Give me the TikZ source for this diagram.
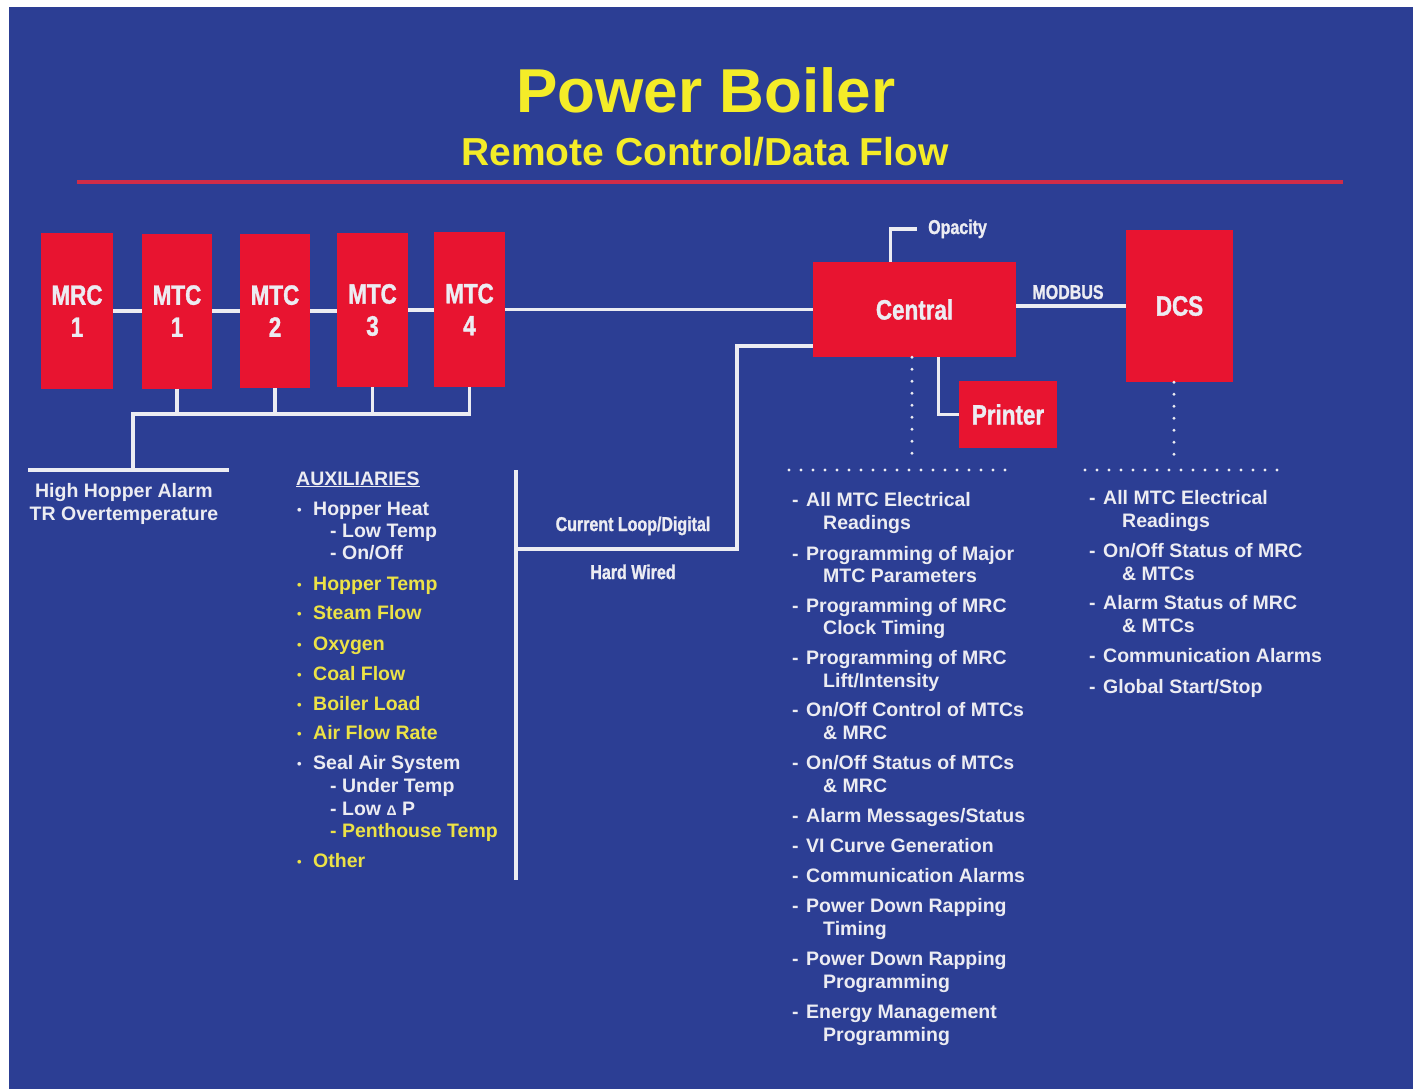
\documentclass[tikz,border=0pt]{standalone}
\usepackage{fontspec}
\setmainfont{Liberation Sans}
\newfontfamily\condf[FakeStretch=0.8, FakeBold=1.2]{Liberation Sans}
\definecolor{bg}{RGB}{44,62,148}
\definecolor{boxred}{RGB}{232,20,48}
\definecolor{ttlyel}{RGB}{244,236,40}
\definecolor{itmyel}{RGB}{236,226,70}
\definecolor{txtw}{RGB}{236,236,242}
\definecolor{rline}{RGB}{208,44,72}
\newcommand\bul{\makebox[16pt][l]{\raisebox{1pt}{\fontsize{13}{13}\selectfont •}}}
\newcommand\dsh{\makebox[14pt][l]{-}}
\begin{document}
\begin{tikzpicture}[x=1pt,y=-1pt,
 box/.style={fill=boxred, inner sep=0pt, text=txtw, font=\condf\bfseries\fontsize{28}{32}\selectfont, align=center},
 wline/.style={draw=txtw, line width=3.5pt},
 dotline/.style={draw=txtw, line width=3.2pt, line cap=round, dash pattern=on 0pt off 12pt},
 itm/.style={anchor=base west, inner sep=0pt, text=txtw, font=\bfseries\fontsize{19.5}{23}\selectfont},
 yitm/.style={itm, text=itmyel},
 clbl/.style={anchor=base, inner sep=0pt, text=txtw, font=\condf\bfseries\fontsize{20}{24}\selectfont},
 ttl/.style={anchor=base, inner sep=0pt, text=ttlyel},
]
\useasboundingbox (0,0) rectangle (1413,1089);
\fill[white] (0,0) rectangle (1413,1089);
\fill[bg] (9,7) rectangle (1413,1089);

% title
\node[ttl, font=\bfseries\fontsize{62}{70}\selectfont] (title) at (706,113) {Power Boiler};
\node[ttl, font=\bfseries\fontsize{39}{44}\selectfont] (subtitle) at (705,165) {Remote Control/Data Flow};
\coordinate (rl1) at (77,182);
\coordinate (rl2) at (1343,182);
\draw[draw=rline, line width=4pt] (rl1) -- (rl2);

% boxes
\node[box, minimum width=72pt, minimum height=156pt] (mrc1) at (77,311) {MRC\\1};
\node[box, minimum width=70pt, minimum height=155pt] (mtc1) at (177,311) {MTC\\1};
\node[box, minimum width=70pt, minimum height=154pt] (mtc2) at (275,311) {MTC\\2};
\node[box, minimum width=71pt, minimum height=154pt] (mtc3) at (372.5,310) {MTC\\3};
\node[box, minimum width=71pt, minimum height=155pt] (mtc4) at (469.5,309.5) {MTC\\4};
\node[box, minimum width=203pt, minimum height=95pt] (central) at (914.5,309.5) {Central};
\node[box, minimum width=107pt, minimum height=152pt] (dcs) at (1179.5,306) {DCS};
\node[box, minimum width=98pt, minimum height=67pt] (printer) at (1008,414.5) {Printer};

% chain
\draw[wline] (mrc1.east) -- (mtc1.west |- mrc1.east);
\draw[wline] (mtc1.east) -- (mtc2.west |- mtc1.east);
\draw[wline] (mtc2.east) -- (mtc3.west |- mtc2.east);
\draw[wline] (mtc3.east) -- (mtc4.west |- mtc3.east);
\draw[wline] (mtc4.east) -- (central.west |- mtc4.east);

% bus below MTCs
\coordinate (busL) at (133,414);
\coordinate (hl) at (28,470);
\coordinate (hr) at (229,470);
\draw[wline] (mtc1.south) -- (mtc1.south |- busL);
\draw[wline] (mtc2.south) -- (mtc2.south |- busL);
\draw[wline] (mtc3.south) -- (mtc3.south |- busL);
\draw[wline] (mtc4.south) -- (mtc4.south |- busL) -- (busL) -- (busL |- hl);
\draw[wline] (hl) -- (hr);
\node[anchor=base, inner sep=0pt, text=txtw, font=\bfseries\fontsize{19.5}{23}\selectfont] (hha) at (124,497) {High Hopper Alarm};
\node[anchor=base, inner sep=0pt, text=txtw, font=\bfseries\fontsize{19.5}{23}\selectfont] (tro) at (124,520) {TR Overtemperature};

% hard wired link
\coordinate (vtop) at (516,470);
\coordinate (vbot) at (516,880);
\coordinate (hwc) at (737,549);
\draw[wline] (vtop) -- (vbot);
\draw[wline] ([yshift=11pt]central.south west) -| (hwc) -- (hwc -| vtop);
\node[clbl] (cld) at (633,531) {Current Loop/Digital};
\node[clbl] (hw) at (633,579) {Hard Wired};

% opacity, printer, modbus
\node[clbl, anchor=base west] (opac) at (928,234) {Opacity};
\draw[wline] ([xshift=-24pt]central.north) |- ([xshift=-11pt]opac.west);
\draw[wline] ([xshift=24pt]central.south) |- (printer.west);
\draw[wline] (dcs.west -| central.east) -- (dcs.west);
\node[clbl] (modbus) at (1068,299) {MODBUS};

% dotted links
\coordinate (cd) at (912,460);
\coordinate (d1) at (789,470);
\coordinate (d2) at (1013,470);
\coordinate (dd) at (1174,460);
\coordinate (d3) at (1085,470);
\coordinate (d4) at (1283,470);
\draw[dotline] (central.south -| cd) -- (cd);
\draw[dotline] (d1) -- (d2);
\draw[dotline] (dcs.south -| dd) -- (dd);
\draw[dotline] (d3) -- (d4);

% auxiliaries
\node[itm] (aux) at (296,485) {\underline{AUXILIARIES}};
\node[itm] (a1) at (297,515) {\bul Hopper Heat};
\node[itm] (a2) at (330,537) {- Low Temp};
\node[itm] (a3) at (330,559) {- On/Off};
\node[yitm] (a4) at (297,590) {\bul Hopper Temp};
\node[yitm] (a5) at (297,619) {\bul Steam Flow};
\node[yitm] (a6) at (297,650) {\bul Oxygen};
\node[yitm] (a7) at (297,680) {\bul Coal Flow};
\node[yitm] (a8) at (297,710) {\bul Boiler Load};
\node[yitm] (a9) at (297,739) {\bul Air Flow Rate};
\node[itm] (a10) at (297,769) {\bul Seal Air System};
\node[itm] (a11) at (330,792) {- Under Temp};
\node[itm] (a12) at (330,815) {- Low {\fontsize{14}{14}\selectfont Δ} P};
\node[yitm] (a13) at (330,837) {- Penthouse Temp};
\node[yitm] (a14) at (297,867) {\bul Other};

% central list
\node[itm] (m1) at (792,506) {\dsh All MTC Electrical};
\node[itm] (m1b) at (823,529) {Readings};
\node[itm] (m2) at (792,560) {\dsh Programming of Major};
\node[itm] (m2b) at (823,582) {MTC Parameters};
\node[itm] (m3) at (792,612) {\dsh Programming of MRC};
\node[itm] (m3b) at (823,634) {Clock Timing};
\node[itm] (m4) at (792,664) {\dsh Programming of MRC};
\node[itm] (m4b) at (823,687) {Lift/Intensity};
\node[itm] (m5) at (792,716) {\dsh On/Off Control of MTCs};
\node[itm] (m5b) at (823,739) {\& MRC};
\node[itm] (m6) at (792,769) {\dsh On/Off Status of MTCs};
\node[itm] (m6b) at (823,792) {\& MRC};
\node[itm] (m7) at (792,822) {\dsh Alarm Messages/Status};
\node[itm] (m8) at (792,852) {\dsh VI Curve Generation};
\node[itm] (m9) at (792,882) {\dsh Communication Alarms};
\node[itm] (m10) at (792,912) {\dsh Power Down Rapping};
\node[itm] (m10b) at (823,935) {Timing};
\node[itm] (m11) at (792,965) {\dsh Power Down Rapping};
\node[itm] (m11b) at (823,988) {Programming};
\node[itm] (m12) at (792,1018) {\dsh Energy Management};
\node[itm] (m12b) at (823,1041) {Programming};

% DCS list
\node[itm] (r1) at (1089,504) {\dsh All MTC Electrical};
\node[itm] (r1b) at (1122,527) {Readings};
\node[itm] (r2) at (1089,557) {\dsh On/Off Status of MRC};
\node[itm] (r2b) at (1122,580) {\& MTCs};
\node[itm] (r3) at (1089,609) {\dsh Alarm Status of MRC};
\node[itm] (r3b) at (1122,632) {\& MTCs};
\node[itm] (r4) at (1089,662) {\dsh Communication Alarms};
\node[itm] (r5) at (1089,693) {\dsh Global Start/Stop};
\end{tikzpicture}
\end{document}
